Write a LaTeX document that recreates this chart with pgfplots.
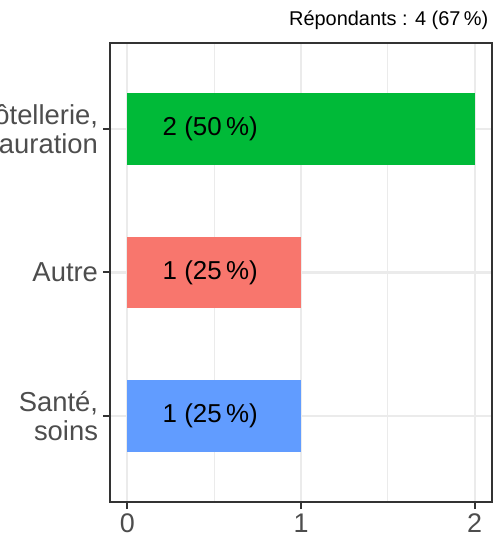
\documentclass[border=0pt]{standalone}
\usepackage{pgfplots}
\pgfplotsset{compat=1.18}
\usepackage{fontspec}
\setmainfont{Liberation Sans}
\definecolor{barG}{HTML}{00BA38}
\definecolor{barR}{HTML}{F8766D}
\definecolor{barB}{HTML}{619CFF}
\definecolor{gridc}{HTML}{EBEBEB}
\definecolor{framec}{HTML}{333333}
\definecolor{ticktext}{HTML}{4D4D4D}
\begin{document}
\begin{tikzpicture}[x=1bp,y=1bp]
\begin{axis}[
  at={(110bp,31bp)}, anchor=south west,
  scale only axis, width=382bp, height=459bp,
  xmin=-0.1, xmax=2.1, ymin=-0.6, ymax=2.6,
  xtick={0,1,2}, minor xtick={0.5,1.5},
  ytick={0,1,2},
  yticklabels={{Santé,\\soins},{Autre},{Hôtellerie,\\restauration}},
  yticklabel style={align=right, font=\fontsize{27.5}{29.5}\selectfont, text=ticktext, xshift=-1.5bp},
  xticklabel style={font=\fontsize{27}{29.5}\selectfont, text=ticktext, yshift=-1bp},
  /pgf/number format/assume math mode=true,
  tick align=outside, major tick length=7bp, minor tick length=0pt,
  major tick style={framec, line width=2bp},
  xtick pos=left, ytick pos=left,
  grid=both,
  major grid style={gridc, line width=2.2bp},
  minor grid style={gridc, line width=1.1bp},
  axis line style={framec, line width=2.2bp},
]
\addplot[xbar, bar shift=0pt, bar width=0.5, fill=barB, draw=none] coordinates {(1,0)};
\addplot[xbar, bar shift=0pt, bar width=0.5, fill=barR, draw=none] coordinates {(1,1)};
\addplot[xbar, bar shift=0pt, bar width=0.5, fill=barG, draw=none] coordinates {(2,2)};
\addplot[draw=none, mark=none, point meta=explicit symbolic, nodes near coords,
  nodes near coords style={anchor=center, font=\fontsize{26}{29}\selectfont, text=black}]
  coordinates {(0.477,0) [1 (25\,\%)] (0.477,1) [1 (25\,\%)] (0.477,2) [2 (50\,\%)]};
\end{axis}
\node[anchor=base east, font=\fontsize{20}{24}\selectfont, text=black] at (491.7,507) {Répondants : 4 (67\,\%)};
\pgfresetboundingbox
\path[use as bounding box] (0,0) rectangle (494,533);
\end{tikzpicture}
\end{document}
